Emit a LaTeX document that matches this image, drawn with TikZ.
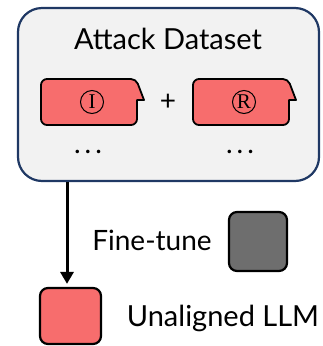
\documentclass[tikz,border=0pt]{standalone}
\usepackage{fontspec}
\setmainfont{Lato}
\newfontfamily\letterfont{Liberation Serif}
\usetikzlibrary{positioning, arrows.meta}

\tikzset{
    bubble/.style={draw=black, fill=redColour, line width=1.8pt, line join=round},
    tag/.style={circle, draw=black, line width=1pt, minimum size=23pt, inner sep=0pt,
        font=\letterfont\fontsize{21}{24}\selectfont},
    model/.style={draw=black, line width=2.2pt, rounded corners=8pt, inner sep=0pt},
    label/.style={font=\fontsize{28}{33}\selectfont, inner sep=0pt}
}

\begin{document}
\begin{tikzpicture}[x=1pt, y=-1pt]
    \definecolor{frameColour}{HTML}{1F3864}
    \definecolor{panelColour}{HTML}{F2F2F2}
    \definecolor{redColour}{HTML}{F76D6D}
    \definecolor{greyColour}{HTML}{6E6E6E}

    \useasboundingbox (0,0) rectangle (323,346);

    % Draw the dataset panel
    \node[draw=frameColour, fill=panelColour, line width=2.2pt, rounded corners=24pt,
          minimum width=301pt, minimum height=173pt, inner sep=0pt] (dataset) at (168.5,94.5) {};
    \node[label, font=\fontsize{29}{34}\selectfont] (title) at (168,39) {Attack Dataset};

    % Draw the two message bubbles
    \foreach \x/\sym/\name in {41/I/instr, 193/R/resp} {
        \draw[bubble] (\x+80,79) [rounded corners=5pt] -- (\x+95,79) [sharp corners]
            -- (\x+103,100) -- (\x+96,100) [rounded corners=6pt] -- (\x+96,125)
            -- (\x,125) -- (\x,79) -- cycle;
        \node[tag] (\name) at (\x+51,102) {\sym};
        \node[label] (\name dots) at (\x+47,152) {.\hspace{4pt}.\hspace{4pt}.};
    }
    \node[label] (plus) at (168,102) {+};

    % Draw the models
    \node[model, fill=redColour, minimum width=61pt, minimum height=56pt] (llm) at (70.5,316) {};
    \node[model, fill=greyColour, minimum width=58pt, minimum height=59pt] (base) at (258,241.5) {};
    \node[label] (finetune) at (152,240) {Fine-tune};
    \node[label, font=\fontsize{29}{34}\selectfont] (unaligned) at (223,318) {Unaligned LLM};

    % Draw the fine-tune arrow
    \draw[line width=3pt, -{Triangle[length=12pt, width=13pt]}, shorten >=3pt]
        ([xshift=-3.5pt]llm.north |- dataset.south) -- ([xshift=-3.5pt]llm.north);
\end{tikzpicture}
\end{document}
